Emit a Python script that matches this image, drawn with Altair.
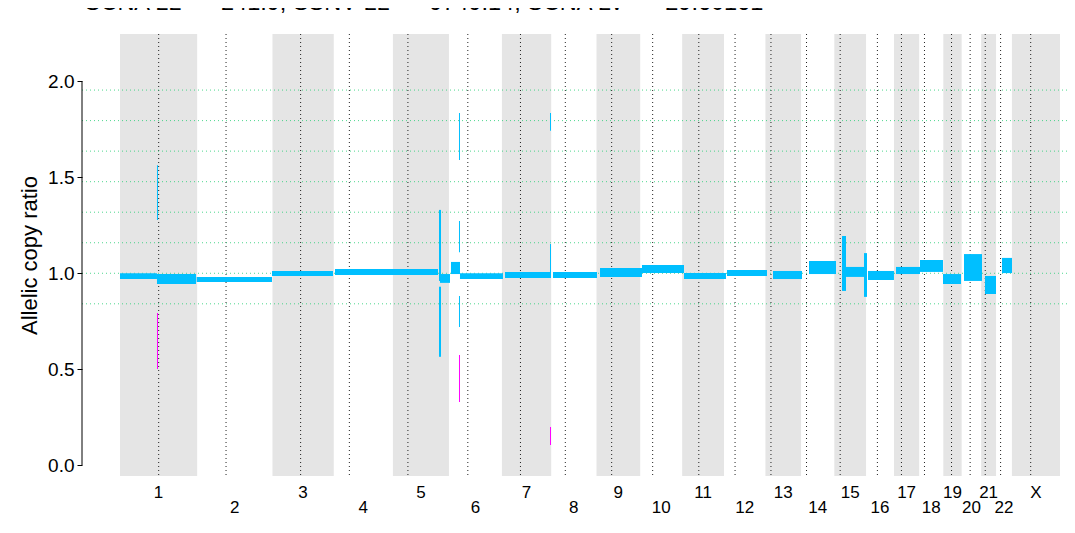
import altair as alt
import pandas as pd

# ---------------- data ----------------
chrom_names = [str(i) for i in range(1, 23)] + ["X"]
chrom_len_mb = [249.25, 243.20, 198.02, 191.15, 180.92, 171.12, 159.14, 146.36,
                141.21, 135.53, 135.01, 133.85, 115.17, 107.35, 102.53, 90.35,
                81.20, 78.08, 59.13, 63.03, 48.13, 51.30, 155.27]
centromere_mb = [125.0, 93.3, 91.0, 50.4, 48.4, 61.0, 59.9, 45.6, 49.0, 40.2,
                 53.7, 35.8, 17.9, 17.6, 19.0, 36.6, 24.0, 17.2, 26.5, 27.5,
                 13.2, 14.7, 60.6]

# segments in genome-wide Mb
seg_start = [0.0, 119.5, 119.5, 119.5, 247.7, 491.0, 694.5, 1030.4, 1030.4, 1033.6,
             1069.2, 1095.0, 1095.0, 1095.0, 1095.0, 1098.2, 1243.6, 1389.0, 1389.0,
             1389.0, 1398.6, 1550.5, 1686.1, 1821.8, 1960.7, 2109.3, 2225.6, 2332.2,
             2345.1, 2403.2, 2416.1, 2506.5, 2584.1, 2658.4, 2726.2, 2794.1, 2849.0]
seg_end = [119.5, 122.7, 122.7, 245.5, 491.0, 688.0, 1027.2, 1036.9, 1036.9, 1066.0,
           1098.2, 1098.2, 1098.2, 1098.2, 1098.2, 1237.1, 1392.2, 1392.2, 1392.2,
           1392.2, 1540.8, 1686.1, 1821.8, 1957.4, 2089.9, 2203.0, 2312.8, 2345.1,
           2403.2, 2412.9, 2500.0, 2584.1, 2658.4, 2716.5, 2784.4, 2829.6, 2881.3]
seg_lo = [0.970, 1.277, 0.502, 0.944, 0.954, 0.986, 0.991, 0.960, 0.565, 0.950,
          0.996, 1.590, 1.110, 0.720, 0.330, 0.970, 0.976, 1.742, 0.986, 0.106,
          0.976, 0.981, 1.001, 0.970, 0.986, 0.970, 0.996, 0.908, 0.981, 0.877,
          0.965, 0.996, 1.007, 0.944, 0.960, 0.892, 1.001]
seg_hi = [1.000, 1.563, 0.793, 0.996, 0.981, 1.012, 1.022, 1.330, 0.930, 0.996,
          1.059, 1.834, 1.272, 0.882, 0.574, 1.000, 1.007, 1.834, 1.153, 0.200,
          1.007, 1.028, 1.043, 1.001, 1.017, 1.012, 1.064, 1.194, 1.033, 1.105,
          1.012, 1.033, 1.069, 0.996, 1.100, 0.986, 1.080]
seg_kind = ["b", "b", "m", "b", "b", "b", "b", "b", "b", "b",
            "b", "b", "b", "b", "m", "b", "b", "b", "b", "m",
            "b", "b", "b", "b", "b", "b", "b", "b", "b", "b",
            "b", "b", "b", "b", "b", "b", "b"]

levels = [0.841, 1.0, 1.159, 1.318, 1.477, 1.636, 1.795, 1.954]
y_ticks = [0.0, 0.5, 1.0, 1.5, 2.0]

title_text = "SCNA LL = \u2212241.9, SSNV LL = \u22129749.14, SCNA LV = \u221229.60161"

# ---------------- tables ----------------
starts, acc = [], 0.0
for L in chrom_len_mb:
    starts.append(acc)
    acc += L
chrom = pd.DataFrame({
    "chrom": chrom_names,
    "start": starts,
    "end": [s + L for s, L in zip(starts, chrom_len_mb)],
    "mid": [s + L / 2 for s, L in zip(starts, chrom_len_mb)],
    "cen": [s + c for s, c in zip(starts, centromere_mb)],
    "row": [1 if i % 2 == 0 else 2 for i in range(len(chrom_names))],
    "shade": [i % 2 == 0 for i in range(len(chrom_names))],
})
segs = pd.DataFrame({"start": seg_start, "end": seg_end, "lo": seg_lo,
                     "hi": seg_hi, "kind": seg_kind})
lev = pd.DataFrame({"level": levels})
axline = pd.DataFrame({"y0": [min(y_ticks)], "y1": [max(y_ticks)]})

W, H = 985, 442
xscale = alt.Scale(domain=[-122.7, 3058.9], nice=False, zero=False)
yscale = alt.Scale(domain=[-0.0557, 2.246], nice=False, zero=False)
FONT = "Liberation Sans"

yaxis = alt.Axis(values=y_ticks, format=".1f",
                 title="Allelic copy ratio", domain=False, grid=False,
                 ticks=True, tickSize=5, tickColor="black", tickWidth=1,
                 labelFontSize=19, labelColor="black", labelFont=FONT,
                 labelPadding=3, titleFont=FONT, titleFontSize=22,
                 titleFontWeight="normal", titleColor="black", titlePadding=6)

bands = alt.Chart(chrom).transform_filter("datum.shade").mark_rect(color="#E5E5E5").encode(
    x=alt.X("start:Q", scale=xscale, axis=None), x2="end:Q",
    y=alt.value(0), y2=alt.value(H))

cen = alt.Chart(chrom).mark_rule(color="#222222", strokeWidth=1, strokeDash=[1, 3]).encode(
    x=alt.X("cen:Q", axis=None), y=alt.value(0), y2=alt.value(H))

green = alt.Chart(lev).mark_rule(color="#2FD07A", strokeWidth=1, strokeDash=[1, 3], opacity=0.85).encode(
    y=alt.Y("level:Q", scale=yscale, axis=yaxis), x=alt.value(0), x2=alt.value(W))

rects = alt.Chart(segs).mark_rect().encode(
    x=alt.X("start:Q", axis=None), x2="end:Q",
    y=alt.Y("lo:Q", axis=yaxis), y2="hi:Q",
    color=alt.Color("kind:N", scale=alt.Scale(domain=["b", "m"], range=["#00BFFF", "#FF00FF"]),
                    legend=None))

yline = alt.Chart(axline).mark_rule(color="black", strokeWidth=1).encode(
    x=alt.value(0), y=alt.Y("y0:Q", axis=yaxis), y2="y1:Q")

lab_base = alt.Chart(chrom).mark_text(font=FONT, fontSize=17, color="black",
                                      baseline="alphabetic", align="center")
labels1 = lab_base.transform_filter("datum.row == 1").encode(
    x=alt.X("mid:Q", axis=None), y=alt.value(H + 22), text="chrom:N")
labels2 = lab_base.transform_filter("datum.row == 2").encode(
    x=alt.X("mid:Q", axis=None), y=alt.value(H + 37), text="chrom:N")

title = alt.Chart(pd.DataFrame({"t": [title_text]})).mark_text(
    font=FONT, fontSize=23.5, color="black", baseline="alphabetic", align="center").encode(
    x=alt.value(342), y=alt.value(-24), text="t:N")

chart = alt.layer(bands, cen, green, rects, yline, labels1, labels2, title).properties(
    width=W, height=H,
    padding={"left": 74, "top": 26, "right": 0, "bottom": 45},
    autosize=alt.AutoSizeParams(type="none"),
    background="white",
).configure_view(strokeWidth=0)

chart.save("out.html", embed_options={"renderer": "svg", "actions": False})
